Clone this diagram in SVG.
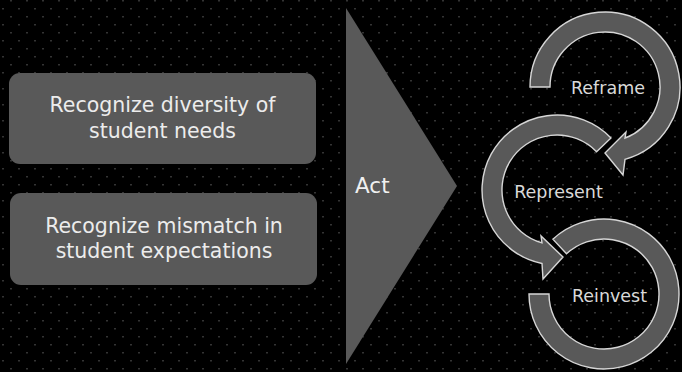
<svg xmlns="http://www.w3.org/2000/svg" width="682" height="372" viewBox="0 0 682 372">
<defs>
<pattern id="dots" patternUnits="userSpaceOnUse" width="16" height="16">
<rect x="10.25" y="0" width="1.5" height="1.5" fill="#454545"/>
<rect x="2.25" y="8" width="1.5" height="1.5" fill="#454545"/>
</pattern>
<style>
.box{fill:#595959;}
.tri{fill:#595959;}
.arc{fill:#595959;stroke:#d6d6d6;stroke-width:1.4;stroke-linejoin:miter;}
.bt{font-family:"DejaVu Sans","Liberation Sans",sans-serif;font-size:20.5px;fill:#ececec;text-anchor:middle;}
.lb{font-family:"DejaVu Sans","Liberation Sans",sans-serif;font-size:17.5px;fill:#d9d9d9;text-anchor:middle;}
.act{font-family:"DejaVu Sans","Liberation Sans",sans-serif;font-size:21.5px;fill:#f0f0f0;}
</style>
</defs>
<rect x="0" y="0" width="682" height="372" fill="#000"/>
<rect x="0" y="0" width="682" height="372" fill="url(#dots)"/>

<g id="box1">
<rect class="box" x="9" y="73" width="307" height="91" rx="11"/>
<text class="bt" x="162.5" y="112">Recognize diversity of</text>
<text class="bt" x="162.5" y="138">student needs</text>
</g>

<g id="box2">
<rect class="box" x="10" y="193" width="307" height="92" rx="11"/>
<text class="bt" x="164" y="233">Recognize mismatch in</text>
<text class="bt" x="164" y="258">student expectations</text>
</g>

<g id="act">
<polygon class="tri" points="346,8 457,186 346,364"/>
<text class="act" x="355" y="193">Act</text>
</g>

<g id="connectors">
<g id="reframe">
<path class="arc" d="M530,87 A75,75 0 1 1 625,159.3 L623,175 L605,153 L626,132 L625,138.2 A55,55 0 1 0 550,87 Z"/>
<text class="lb" x="608" y="94">Reframe</text>
</g>
<g id="represent">
<path class="arc" d="M610.95,137.9 A75,75 0 1 0 542,263.5 L543,279 L563,257 L541,236 L542,242.9 A55,55 0 1 1 596.56,151.79 Z"/>
<text class="lb" x="558.5" y="198">Represent</text>
</g>
<g id="reinvest">
<path class="arc" d="M552.85,239.15 A75,75 0 1 1 529,294 L549,294 A55,55 0 1 0 566.49,253.78 Z"/>
<text class="lb" x="609.5" y="302">Reinvest</text>
</g>
</g>
</svg>
